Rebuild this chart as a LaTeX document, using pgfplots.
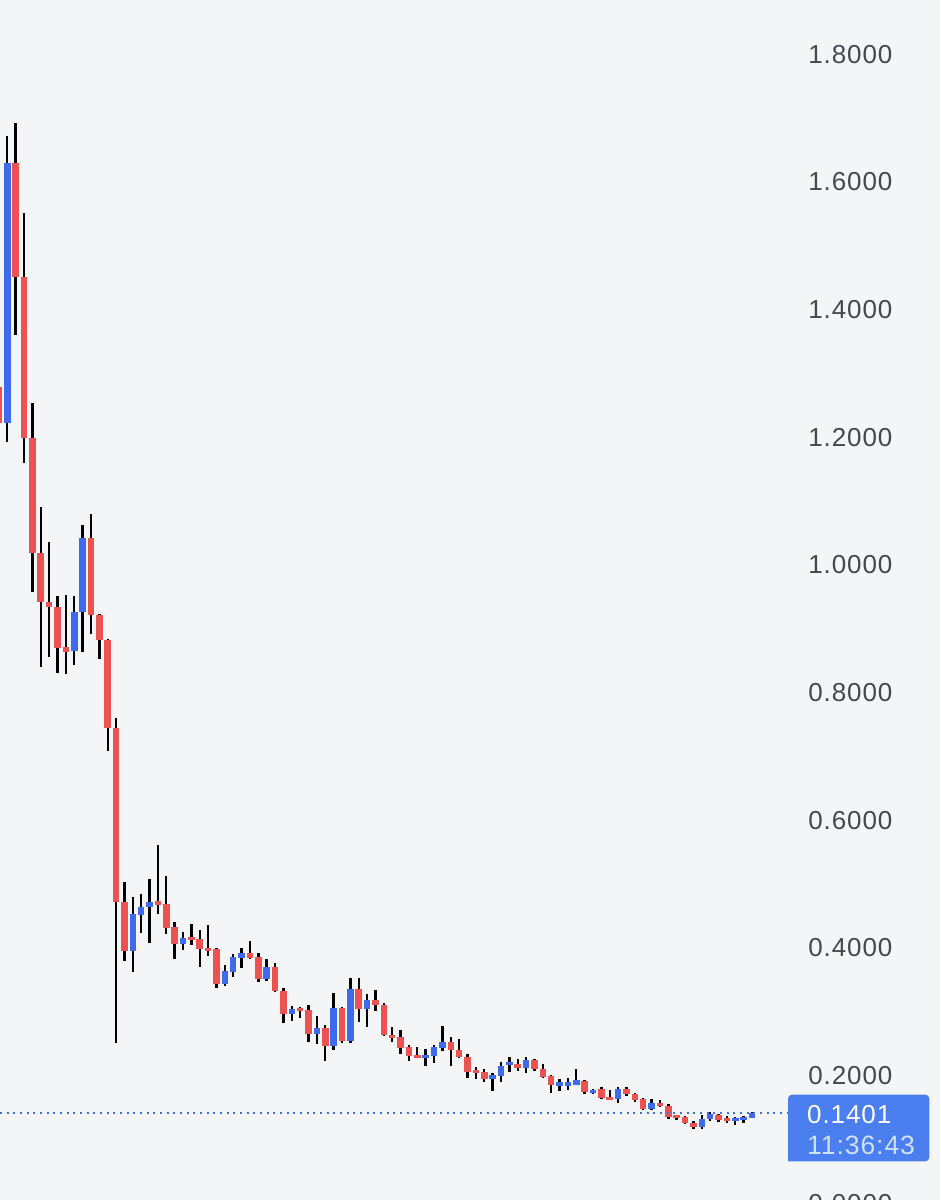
\documentclass[border=0pt]{standalone}
\usepackage{fontspec}
\setmainfont{Liberation Sans}[LetterSpace=3.5]
\usepackage{pgfplots}
\usepackage{pgfplotstable}
\pgfplotsset{compat=1.18}
\definecolor{bgc}{HTML}{F3F5F7}
\definecolor{upc}{HTML}{3F6AEC}
\definecolor{downc}{HTML}{EC5350}
\definecolor{tickc}{HTML}{45484F}
\definecolor{tagc}{HTML}{4B7EEE}
\definecolor{tagt}{HTML}{CFE0FA}
\definecolor{dotc}{HTML}{4170E0}
\pgfplotstableread{
x open close high low
-1 1.2776 1.2212 1.4263 1.1162
1 1.6284 1.4498 1.6910 1.3590
2 1.4498 1.1977 1.5501 1.1585
3 1.1977 1.0176 1.2525 0.9565
4 1.0176 0.9408 1.0896 0.8390
5 0.9408 0.9330 1.0348 0.8547
6 0.9330 0.8688 0.9502 0.8296
7 0.8711 0.8633 0.9518 0.8280
10 1.0411 0.9205 1.0786 0.8907
11 0.9205 0.8813 0.9220 0.8515
12 0.8813 0.7435 0.8830 0.7075
13 0.7435 0.4710 0.7591 0.2501
14 0.4710 0.3942 0.5023 0.3786
18 0.4718 0.4670 0.5602 0.4522
19 0.4678 0.4302 0.5117 0.4208
20 0.4318 0.4052 0.4396 0.3817
22 0.4169 0.4122 0.4365 0.4036
23 0.4130 0.3973 0.4271 0.3692
24 0.3997 0.3950 0.4349 0.3864
25 0.3973 0.3425 0.3989 0.3363
29 0.3911 0.3832 0.4099 0.3816
30 0.3848 0.3504 0.3911 0.3457
32 0.3692 0.3316 0.3754 0.3300
33 0.3316 0.2955 0.3363 0.2814
35 0.3057 0.3010 0.3065 0.2893
36 0.3018 0.2642 0.3096 0.2517
38 0.2736 0.2454 0.2783 0.2219
40 0.3049 0.2533 0.3065 0.2501
42 0.3347 0.3034 0.3519 0.2830
44 0.3175 0.3096 0.3331 0.3002
45 0.3096 0.2626 0.3128 0.2611
46 0.2634 0.2572 0.2752 0.2517
47 0.2596 0.2423 0.2705 0.2329
48 0.2439 0.2298 0.2470 0.2219
49 0.2321 0.2274 0.2439 0.2266
53 0.2517 0.2392 0.2595 0.2141
54 0.2392 0.2282 0.2564 0.2266
55 0.2282 0.2047 0.2329 0.1953
56 0.2086 0.2039 0.2125 0.1937
57 0.2047 0.1937 0.2094 0.1890
61 0.2172 0.2110 0.2251 0.2063
63 0.2235 0.2094 0.2251 0.2063
64 0.2094 0.1969 0.2172 0.1953
65 0.1984 0.1843 0.2000 0.1718
69 0.1906 0.1734 0.1920 0.1702
71 0.1781 0.1640 0.1812 0.1624
72 0.1663 0.1616 0.1773 0.1608
74 0.1781 0.1702 0.1812 0.1671
75 0.1702 0.1608 0.1717 0.1577
76 0.1624 0.1468 0.1640 0.1452
78 0.1561 0.1515 0.1608 0.1499
79 0.1515 0.1342 0.1546 0.1311
80 0.1366 0.1319 0.1373 0.1303
81 0.1342 0.1248 0.1358 0.1233
82 0.1248 0.1186 0.1280 0.1154
85 0.1374 0.1295 0.1389 0.1264
86 0.1319 0.1272 0.1358 0.1248
}\downtable
\pgfplotstableread{
x open close high low
0 1.2212 1.6284 1.6707 1.1914
8 0.8641 0.9252 0.9502 0.8421
9 0.9252 1.0411 1.0614 0.8625
15 0.3942 0.4522 0.4788 0.3613
16 0.4506 0.4631 0.4835 0.4224
17 0.4631 0.4710 0.5070 0.4067
21 0.4052 0.4146 0.4240 0.3958
26 0.3425 0.3629 0.3723 0.3394
27 0.3613 0.3848 0.3895 0.3535
28 0.3832 0.3911 0.3989 0.3676
31 0.3504 0.3692 0.3817 0.3472
34 0.2955 0.3034 0.3081 0.2846
37 0.2642 0.2736 0.2924 0.2486
39 0.2454 0.3049 0.3284 0.2392
41 0.2533 0.3347 0.3519 0.2501
43 0.3034 0.3175 0.3269 0.2752
50 0.2274 0.2321 0.2407 0.2141
51 0.2298 0.2439 0.2470 0.2188
52 0.2423 0.2517 0.2767 0.2376
58 0.1937 0.2000 0.2031 0.1749
59 0.1984 0.2141 0.2204 0.1890
60 0.2149 0.2196 0.2282 0.2047
62 0.2110 0.2235 0.2282 0.2031
66 0.1835 0.1883 0.1937 0.1749
67 0.1835 0.1883 0.1953 0.1765
68 0.1851 0.1914 0.2094 0.1843
70 0.1726 0.1773 0.1781 0.1702
73 0.1624 0.1781 0.1812 0.1561
77 0.1468 0.1561 0.1624 0.1452
83 0.1186 0.1311 0.1374 0.1154
84 0.1311 0.1389 0.1421 0.1280
87 0.1287 0.1319 0.1342 0.1217
88 0.1303 0.1335 0.1358 0.1248
89 0.1327 0.1401 0.1421 0.1327
}\uptable
\newcommand{\pxfont}[1]{\fontsize{#1}{#1}\selectfont}
\begin{document}
\begin{tikzpicture}
\useasboundingbox (0,0) rectangle (705pt,900pt);
\clip (0,0) rectangle (705pt,900pt);
\fill[bgc] (0,0) rectangle (705pt,900pt);
\begin{axis}[
  at={(0pt,-2.03pt)}, anchor=south west,
  scale only axis, width=705pt, height=902.03pt,
  xmin=-0.872, xmax=111.47, ymin=0, ymax=1.8837,
  axis line style={draw=none},
  xtick=\empty,
  ytick={0,0.2,0.4,0.6,0.8,1.0,1.2,1.4,1.6,1.8},
  yticklabel pos=right,
  major tick length=0pt,
  yticklabel style={
    anchor=east, inner sep=0pt, xshift=-35.5pt, yshift=-0.5pt,
    text=tickc, font=\pxfont{19.5},
    /pgf/number format/.cd, fixed, fixed zerofill, precision=4, assume math mode=true},
  error bars/error mark=none,
]
% wicks
\addplot[draw=none, mark=none, forget plot, error bars/.cd, y dir=plus, y explicit,
  error bar style={line width=1.8pt, black}]
  table[x=x, y=low, y error plus expr=\thisrow{high}-\thisrow{low}] {\downtable};
\addplot[draw=none, mark=none, forget plot, error bars/.cd, y dir=plus, y explicit,
  error bar style={line width=1.8pt, black}]
  table[x=x, y=low, y error plus expr=\thisrow{high}-\thisrow{low}] {\uptable};
% bodies
\addplot[draw=none, mark=none, forget plot, error bars/.cd, y dir=plus, y explicit,
  error bar style={line width=4.9pt, downc}]
  table[x=x, y=close, y error plus expr=\thisrow{open}-\thisrow{close}] {\downtable};
\addplot[draw=none, mark=none, forget plot, error bars/.cd, y dir=plus, y explicit,
  error bar style={line width=4.9pt, upc}]
  table[x=x, y=open, y error plus expr=\thisrow{close}-\thisrow{open}] {\uptable};
% last price line
\addplot[dotc, line width=1.3pt, dash pattern=on 1.5pt off 3.5pt, forget plot]
  coordinates {(-0.872,0.1401) (93.3,0.1401)};
\end{axis}
% price tag
\fill[tagc, rounded corners=3pt] (591pt,29pt) -- (697pt,29pt) -- (697pt,79pt) -- (591pt,79pt) [sharp corners] -- cycle;
\node[anchor=west, inner sep=0pt, text=white, font=\pxfont{19.5}] at (605.2pt,63.8pt) {0.1401};
\node[anchor=west, inner sep=0pt, text=tagt, font=\fontsize{19.9}{20}\selectfont] at (605.2pt,41.3pt) {11:36:43};
\end{tikzpicture}
\end{document}
